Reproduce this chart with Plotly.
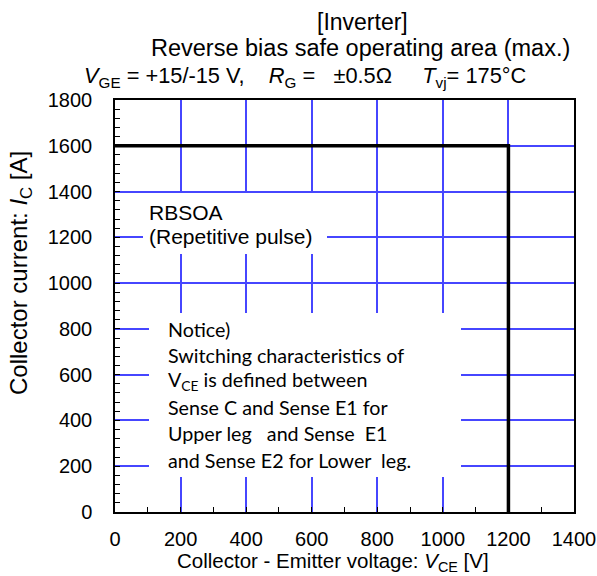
import plotly.graph_objects as go

# ---- data ----
voltage_v = [0, 1200, 1200]
current_a = [1600, 1600, 0]

x_range = [0, 1400]
y_range = [0, 1800]
x_major, x_minor = 200, 100
y_major, y_minor = 200, 40

title_lines = ["[Inverter]", "Reverse bias safe operating area (max.)"]
cond_line = ("<i>V</i><sub>GE</sub> = +15/-15 V,\u00a0\u00a0\u00a0 <i>R</i><sub>G</sub> =\u00a0\u00a0 \u00b10.5\u03a9"
             "\u00a0\u00a0\u00a0\u00a0 <i>T</i><sub>vj</sub>= 175\u00b0C")
rbsoa_lines = ["RBSOA", "(Repetitive pulse)"]
notice_lines = [
    "Notice)",
    "Switching characteristics of",
    "V<sub>CE</sub> is defined between",
    "Sense C and Sense E1 for",
    "Upper leg\u00a0\u00a0 and Sense\u00a0 E1",
    "and Sense E2 for Lower\u00a0 leg.",
]

# ---- layout geometry (pixels) ----
W, H = 597, 576
L, R, T, B = 115, 574, 100, 512


def px(x):
    return (x - L) / (R - L)


def py(y):
    return (B - y) / (B - T)


ARIAL = "Liberation Sans, Arial, sans-serif"
CALIBRI = "Lato, Carlito, Calibri, sans-serif"
GRID = "rgb(70,70,255)"

fig = go.Figure()
fig.add_trace(go.Scatter(x=voltage_v, y=current_a, mode="lines",
                         line=dict(color="black", width=3.5),
                         showlegend=False, hoverinfo="skip"))

axis_common = dict(
    showline=True, linecolor="black", linewidth=1.5, mirror=True,
    ticks="inside", ticklen=5, tickcolor="black", tickwidth=1,
    showgrid=True, gridcolor=GRID, gridwidth=1.5, zeroline=False,
    tickfont=dict(family=ARIAL, size=20, color="black"),
    tickmode="linear", tick0=0, automargin=False,
)

fig.update_xaxes(range=x_range, dtick=x_major,
                 minor=dict(dtick=x_minor, ticks="inside", ticklen=5, tickcolor="black", showgrid=False),
                 ticklabelstandoff=8, **axis_common)
fig.update_yaxes(range=y_range, dtick=y_major,
                 minor=dict(dtick=y_minor, ticks="inside", ticklen=5, tickcolor="black", showgrid=False),
                 ticklabelstandoff=17, **axis_common)

ann = []


def add_box(x0, x1, y0, y1):
    # white box hiding the grid behind a text block
    ann.append(dict(text="", x=px((x0 + x1) / 2), y=py((y0 + y1) / 2), xref="paper", yref="paper",
                    xanchor="center", yanchor="middle", showarrow=False,
                    width=x1 - x0, height=y1 - y0, bgcolor="white", borderpad=0, borderwidth=0))


def add_text(text, x, y, size, family=ARIAL, xanchor="left", angle=0):
    ann.append(dict(text=text, x=px(x), y=py(y), xref="paper", yref="paper",
                    xanchor=xanchor, yanchor="middle", showarrow=False, textangle=angle,
                    font=dict(family=family, size=size, color="black")))


add_box(143, 327, 193, 254)
add_box(149, 461, 313, 477)

add_text(title_lines[0], 362, 22, 23, xanchor="center")
add_text(title_lines[1], 360, 48, 23.5, xanchor="center")
add_text(cond_line, 82, 77, 21.8)
add_text("Collector current: <i>I</i><sub>C</sub> [A]", 20, 273, 24, xanchor="center", angle=-90)
add_text("Collector - Emitter voltage: <i>V</i><sub>CE</sub> [V]", 333, 562, 20.5, xanchor="center")
for i, t in enumerate(rbsoa_lines):
    add_text(t, 147, 212 + 25 * i, 21)
for i, t in enumerate(notice_lines):
    add_text(t, 166, 329 + 26.2 * i, 19.7, family=CALIBRI)

fig.update_layout(
    width=W, height=H, autosize=False,
    margin=dict(l=L, r=W - R, t=T, b=H - B, pad=0, autoexpand=False),
    paper_bgcolor="white", plot_bgcolor="white",
    annotations=ann, showlegend=False,
)

fig.write_html(
    "out.html",
    config={"responsive": False, "displayModeBar": False},
    post_script="document.body.style.margin='0';document.body.style.overflow='hidden';",
)
